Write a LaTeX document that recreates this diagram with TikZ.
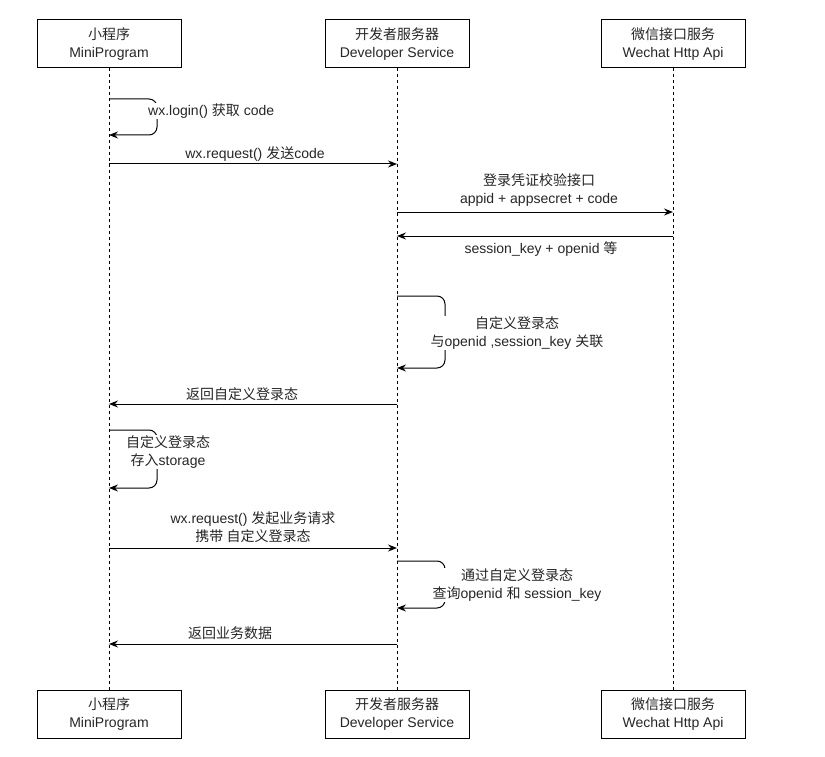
\documentclass[tikz,border=0pt]{standalone}
\usepackage{fontspec}
\setmainfont{Liberation Sans}
\newfontfamily\cjk{Noto Sans CJK SC}
\usetikzlibrary{arrows.meta}
\begin{document}
\begin{tikzpicture}[x=1pt,y=-1pt,
  font=\fontsize{14}{17.5}\selectfont,
  actor/.style={draw,line width=1pt,minimum width=144pt,minimum height=48pt,inner sep=0pt,align=center,text=black!85},
  life/.style={line width=0.8pt,dash pattern=on 3pt off 3pt},
  msg/.style={line width=1pt,-{Stealth[length=9pt,width=7pt,inset=3pt]}},
  loopmsg/.style={msg,rounded corners=8pt},
  lbl/.style={fill=white,inner sep=1pt,align=center,text=black!85},
]
\useasboundingbox (0,0) rectangle (825,757);
% actors
\node[actor] (mp)  at (109,44) {{\cjk 小程序}\\MiniProgram};
\node[actor] (dev) at (397,44) {{\cjk 开发者服务器}\\Developer Service};
\node[actor] (wx)  at (673,44) {{\cjk 微信接口服务}\\Wechat Http Api};
\node[actor] (mpb)  at (109,714) {{\cjk 小程序}\\MiniProgram};
\node[actor] (devb) at (397,714) {{\cjk 开发者服务器}\\Developer Service};
\node[actor] (wxb)  at (673,714) {{\cjk 微信接口服务}\\Wechat Http Api};
% lifelines
\draw[life] (mp.south) -- (mpb.north);
\draw[life] (dev.south) -- (devb.north);
\draw[life] (wx.south) -- (wxb.north);
% coordinates on lifelines
\coordinate (a1) at (109,99);  \coordinate (a1r) at (157,99);
\coordinate (a2) at (109,135); \coordinate (a2r) at (157,135);
\coordinate (b1) at (109,164); \coordinate (b2) at (397,164);
\coordinate (c1) at (397,212); \coordinate (c2) at (673,212);
\coordinate (d1) at (673,236); \coordinate (d2) at (397,236);
\coordinate (e1) at (397,296); \coordinate (e1r) at (445,296);
\coordinate (e2) at (397,368); \coordinate (e2r) at (445,368);
\coordinate (f1) at (397,404); \coordinate (f2) at (109,404);
\coordinate (g1) at (109,430); \coordinate (g1r) at (157,430);
\coordinate (g2) at (109,488); \coordinate (g2r) at (157,488);
\coordinate (h1) at (109,548); \coordinate (h2) at (397,548);
\coordinate (i1) at (397,561); \coordinate (i1r) at (445,561);
\coordinate (i2) at (397,608); \coordinate (i2r) at (445,608);
\coordinate (j1) at (397,644); \coordinate (j2) at (109,644);
% messages
\draw[loopmsg] (a1) -- (a1r) -- (a2r) -- (a2);
\node[lbl,anchor=west] (la) at (147,111) {wx.login() {\cjk 获取} code};
\draw[msg] (b1) -- (b2);
\node[lbl] (lb) at (255,154) {wx.request() {\cjk 发送}code};
\draw[msg] (c1) -- (c2);
\node[lbl] (lc) at (539,190) {{\cjk 登录凭证校验接口}\\appid + appsecret + code};
\draw[msg] (d1) -- (d2);
\node[lbl] (ld) at (541,249) {session\_key + openid {\cjk 等}};
\draw[loopmsg] (e1) -- (e1r) -- (e2r) -- (e2);
\node[lbl] (le) at (517,333) {{\cjk 自定义登录态}\\{\cjk 与}openid ,session\_key {\cjk 关联}};
\draw[msg] (f1) -- (f2);
\node[lbl] (lf) at (242,394) {\cjk 返回自定义登录态};
\draw[loopmsg] (g1) -- (g1r) -- (g2r) -- (g2);
\node[lbl] (lg) at (168,452) {{\cjk 自定义登录态}\\{\cjk 存入}storage};
\draw[msg] (h1) -- (h2);
\node[lbl] (lh) at (253,527) {wx.request() {\cjk 发起业务请求}\\{\cjk 携带 自定义登录态}};
\draw[loopmsg] (i1) -- (i1r) -- (i2r) -- (i2);
\node[lbl] (li) at (517,585) {{\cjk 通过自定义登录态}\\{\cjk 查询}openid {\cjk 和} session\_key};
\draw[msg] (j1) -- (j2);
\node[lbl] (lj) at (230,633) {\cjk 返回业务数据};
\end{tikzpicture}
\end{document}
